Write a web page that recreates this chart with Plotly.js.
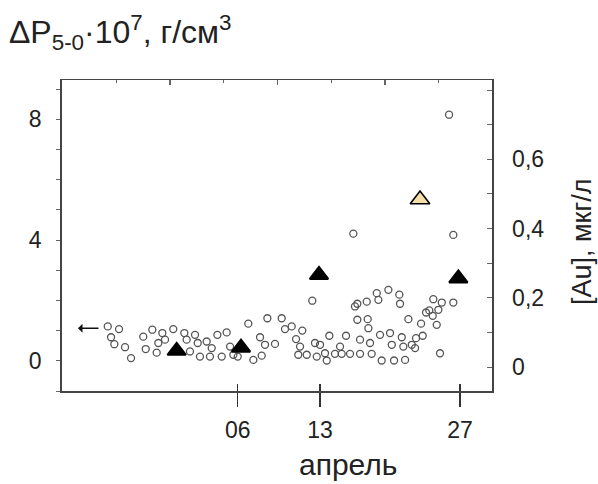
<!DOCTYPE html>
<html>
<head>
<meta charset="utf-8">
<script src="https://cdn.plot.ly/plotly-3.0.1.min.js"></script>
<style>html,body{margin:0;padding:0;background:#fff;}#chart{width:598px;height:484px;}</style>
</head>
<body>
<div id="chart"></div>
<script>
// x positions on the drawn April time scale (tick "06" = 6, "13" = 13)
const circleX = [-5.05,-4.09,-4.77,-4.49,-3.58,-3.07,-2.03,-1.26,-1.82,-0.89,-0.75,-0.41,-0.18,0.52,1.46,1.66,1.94,2.37,2.60,2.79,3.36,3.64,3.79,4.27,4.64,5.06,5.35,5.63,6.00,6.90,7.33,7.90,8.04,8.32,8.52,9.17,9.74,10.02,10.59,11.49,10.96,11.30,11.15,11.87,12.34,12.57,13.00,12.72,13.42,13.57,13.79,14.27,14.70,14.84,15.21,15.55,15.83,15.97,16.17,16.97,16.17,17.05,17.11,16.40,16.40,17.25,17.39,17.82,17.96,18.81,18.10,18.24,18.95,19.10,19.29,19.74,19.80,19.95,20.08,20.23,20.51,20.80,21.08,21.16,21.59,21.73,22.01,22.29,22.63,22.58,22.92,23.06,23.35,23.20,24.33,23.97,24.33];
// ΔP(5-0)·10^7, g/cm3
const circleY = [1.14,1.05,0.78,0.55,0.45,0.09,0.80,1.03,0.39,0.27,0.59,0.92,0.70,1.05,0.92,0.70,0.31,0.86,0.59,0.14,0.64,0.14,0.42,0.86,0.14,0.94,0.47,0.20,0.14,1.23,0.03,0.78,0.17,0.53,1.41,0.56,1.41,1.05,1.14,1.00,0.72,0.47,0.20,0.20,1.99,0.59,0.53,0.14,0.25,0.01,0.83,0.23,0.47,0.23,0.83,0.23,4.21,1.80,1.89,1.96,1.36,1.38,1.08,0.70,0.23,0.59,0.23,2.24,2.02,2.35,0.86,0.01,0.92,0.53,0.01,2.19,1.89,0.78,0.47,0.03,1.38,0.53,0.42,0.75,1.23,0.83,1.60,1.67,2.04,1.49,1.19,1.69,1.93,0.25,1.93,8.15,4.17];
// [Au], мкг/л
const auX = [0.81, 6.28, 12.91, 24.76];
const auY = [0.047, 0.056, 0.266, 0.256];
const auHighX = [21.50];
const auHighY = [0.484];
// arrow marker on the left axis
const arrowX = -7.58, arrowY = 1.08;
const tickVals = [6, 13, 24.9];
const tickText = ['06', '13', '27'];
const rightTickVals = [0, 0.2, 0.4, 0.6, 0.8];
const rightTickText = ['0', '0,2', '0,4', '0,6', ''];

const xRange = [-8.94, 27.62];
const FAM = 'Liberation Sans, Arial, sans-serif';
const axisCol = '#444';
const px2paperX = p => (p - 62) / 430;
const px2paperY = p => (391 - p) / 311;

const traces = [
  {x: circleX, y: circleY, type: 'scatter', mode: 'markers', xaxis: 'x', yaxis: 'y',
   marker: {symbol: 'circle-open', size: 7, color: '#555', line: {width: 1.3, color: '#555'}}, hoverinfo: 'skip'},
  {x: auX, y: auY, type: 'scatter', mode: 'markers', xaxis: 'x', yaxis: 'y2',
   marker: {symbol: 'triangle-up', size: 16, color: '#000', line: {width: 2, color: '#000'}}, hoverinfo: 'skip'},
  {x: auHighX, y: auHighY, type: 'scatter', mode: 'markers', xaxis: 'x', yaxis: 'y2',
   marker: {symbol: 'triangle-up', size: 17, color: '#f4e0a6', line: {width: 1.6, color: '#000'}}, hoverinfo: 'skip'},
  {x: [], y: [], type: 'scatter', mode: 'markers', xaxis: 'x2', yaxis: 'y', hoverinfo: 'skip'},
  {x: [], y: [], type: 'scatter', mode: 'markers', xaxis: 'x3', yaxis: 'y', hoverinfo: 'skip'}
];

const layout = {
  width: 598, height: 484,
  margin: {l: 62, r: 106, t: 80, b: 93, pad: 0},
  paper_bgcolor: '#fff', plot_bgcolor: '#fff',
  showlegend: false,
  separators: ', ',
  font: {family: FAM, color: '#222'},
  title: {text: 'ΔP<sub>5-0</sub>·10<sup>7</sup>, г/см<sup>3</sup>', xref: 'container', yref: 'container',
          x: 0.015, xanchor: 'left', y: 1 - 32 / 484, yanchor: 'middle', font: {family: FAM, size: 32, color: '#222'}},
  xaxis: {range: xRange, showgrid: false, zeroline: false, showline: true, linecolor: axisCol, linewidth: 1.5,
          ticks: 'outside', ticklen: 14, tickwidth: 1.5, tickcolor: '#333', tickmode: 'array', tickvals: tickVals, ticktext: tickText,
          tickfont: {size: 23, color: '#222'}, ticklabelstandoff: 4},
  xaxis3: {range: xRange, overlaying: 'x', side: 'bottom', showgrid: false, zeroline: false, showline: false,
          ticks: 'inside', ticklen: 7, tickwidth: 1.5, tickcolor: '#333', tickmode: 'array', tickvals: tickVals, showticklabels: false},
  xaxis2: {range: xRange, overlaying: 'x', side: 'top', showgrid: false, zeroline: false, showline: true, linecolor: axisCol, linewidth: 1.5,
          ticks: 'inside', ticklen: 5, tickwidth: 1.3, tickcolor: '#666', tick0: 0.24, dtick: 9.14, showticklabels: false,
          minor: {ticks: 'inside', ticklen: 3, tick0: 0.24, dtick: 4.57, tickcolor: '#666', tickwidth: 1.3}},
  yaxis: {range: [-1, 9.3], showgrid: false, zeroline: false, showline: true, linecolor: axisCol, linewidth: 1.8,
          ticks: 'outside', ticklen: 4, tickwidth: 1, tickcolor: '#666', tick0: 0, dtick: 4,
          minor: {ticks: 'outside', ticklen: 4, dtick: 1, tickcolor: '#666', tickwidth: 1},
          tickfont: {size: 23, color: '#222'}, ticklabelstandoff: 10},
  yaxis2: {range: [-0.069, 0.829], overlaying: 'y', side: 'right', showgrid: false, zeroline: false, showline: true, linecolor: axisCol, linewidth: 1.5,
          ticks: 'inside', ticklen: 5, tickwidth: 1, tickcolor: '#666', tickmode: 'array', tickvals: rightTickVals, ticktext: rightTickText,
          minor: {ticks: 'inside', ticklen: 5, tick0: 0, dtick: 0.1, tickcolor: '#666', tickwidth: 1},
          tickfont: {size: 23, color: '#222'}, ticklabelstandoff: 14},
  annotations: [
    {x: arrowX, y: arrowY, xref: 'x', yref: 'y', ax: 22, ay: 0, text: '', showarrow: true,
     arrowhead: 1, arrowsize: 1, arrowwidth: 1.5, arrowcolor: '#111'},
    {x: px2paperX(348), y: px2paperY(464), xref: 'paper', yref: 'paper', text: 'апрель', showarrow: false,
     xanchor: 'center', yanchor: 'middle', font: {family: FAM, size: 30, color: '#222'}},
    {x: px2paperX(582), y: px2paperY(242), xref: 'paper', yref: 'paper', text: '[Au], мкг/л', showarrow: false,
     textangle: -90, xanchor: 'center', yanchor: 'middle', font: {family: FAM, size: 27, color: '#222'}}
  ]
};

Plotly.newPlot('chart', traces, layout, {staticPlot: true, displayModeBar: false});
</script>
</body>
</html>
